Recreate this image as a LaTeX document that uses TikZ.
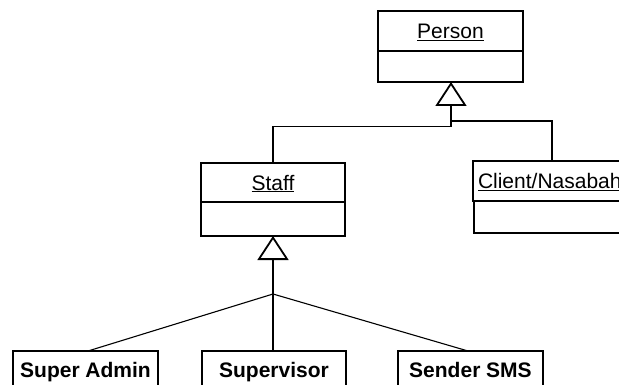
\documentclass[tikz,border=0pt]{standalone}
\usepackage{fontspec}
\setmainfont{Liberation Sans}
\usetikzlibrary{arrows.meta}

\begin{document}
\begin{tikzpicture}[x=1pt,y=-1pt,
  box/.style={draw, line width=1.8pt, inner sep=0pt, outer sep=0pt, anchor=north west,
    font=\fontsize{21}{25}\selectfont, text height=15pt, text depth=0pt},
  namebox/.style={box},
  bodybox/.style={box, anchor=north},
  leaf/.style={box, font=\fontsize{21}{25}\bfseries\selectfont},
  link/.style={line width=1.1pt},
  gen/.style={link, -{Triangle[open, length=24pt, width=31pt, line width=1.8pt]}}]

\clip (0,0) rectangle (619,385);
\fill[white] (0,0) rectangle (619,385);

% Person class
\node[namebox, minimum width=145, minimum height=40] (person) at (378,11) {\underline{Person}};
\node[bodybox, minimum width=145, minimum height=31] (personb) at (person.south) {};

% Staff class
\node[namebox, minimum width=144, minimum height=39] (staff) at (201,163) {\underline{Staff}};
\node[bodybox, minimum width=144, minimum height=34] (staffb) at (staff.south) {};

% Client class (runs past the right edge)
\node[namebox, minimum width=167, minimum height=40, align=left] (client) at (473,161)
  {\hspace*{5pt}\underline{Client/Nasabah}\hspace*{20pt}};
\node[bodybox, minimum width=167, minimum height=32] (clientb) at (client.south) {};

% Staff subclasses
\node[leaf, minimum width=145, minimum height=37] (sadmin) at (13,351) {Super Admin};
\node[leaf, minimum width=144, minimum height=37] (superv) at (202,351) {Supervisor};
\node[leaf, minimum width=145, minimum height=37] (sender) at (398,351) {Sender SMS};

% generalisation towards Person
\coordinate (jp) at (451,126.7);
\coordinate (cj) at (552,121);
\draw[gen] (staff.north) |- (jp) -- (jp |- personb.south);
\draw[link] (cj |- client.north) -- (cj) -- (cj -| jp);

% generalisation towards Staff
\coordinate (fork) at (273,294);
\draw[gen] (fork) -- (fork |- staffb.south);
\draw[link] (fork) -- ([xshift=2.5pt]sadmin.north);
\draw[link] (fork) -- (fork |- superv.north);
\draw[link] (fork) -- ([xshift=-2.5pt]sender.north);
\end{tikzpicture}
\end{document}
